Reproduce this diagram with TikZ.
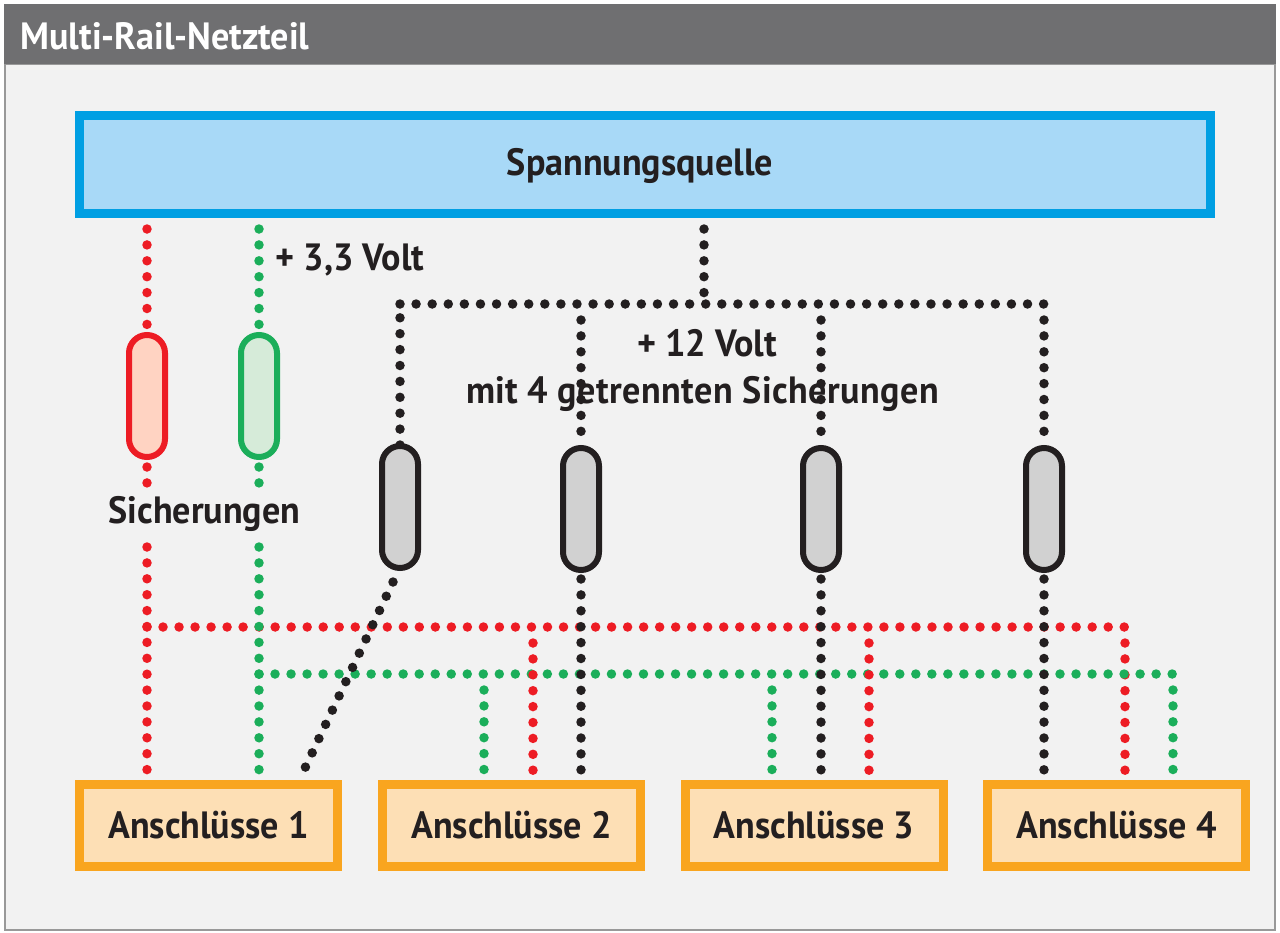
\documentclass[tikz,border=0pt]{standalone}
\usepackage{fontspec}
\setmainfont{PT Sans}
\newfontfamily\labelfont[FakeStretch=0.95]{PT Sans}
\newfontfamily\widefont[FakeStretch=0.95,LetterSpace=1.2]{PT Sans}
\definecolor{panelgray}{HTML}{F2F2F2}
\definecolor{headgray}{HTML}{6F6F71}
\definecolor{inkblack}{HTML}{231F20}
\definecolor{srcblue}{HTML}{009FE3}
\definecolor{srcfill}{HTML}{A8D9F7}
\definecolor{portorange}{HTML}{F9A51F}
\definecolor{portfill}{HTML}{FDDFB5}
\definecolor{railred}{HTML}{ED1C24}
\definecolor{railgreen}{HTML}{1BAE5A}
\definecolor{fusered}{HTML}{FFD3C2}
\definecolor{fusegreen}{HTML}{D6EBD9}
\tikzset{
  lbl/.style={text=inkblack,inner sep=0pt,font=\labelfont\bfseries\fontsize{38}{44}\selectfont},
  portbox/.style={draw=portorange,fill=portfill,line width=9pt,minimum width=258pt,minimum height=82pt,lbl},
  fuse/.style={line width=6pt,minimum width=36pt,minimum height=122pt,rounded corners=18pt,inner sep=0pt},
  dots/.style={line width=9.5pt,line cap=round,dash pattern=on 0pt off 15.9pt},
  busdots/.style={dash pattern=on 0pt off 16.02pt},
  redrail/.style={dots,draw=railred},
  greenrail/.style={dots,draw=railgreen},
  blackrail/.style={dots,draw=inkblack}
}
\begin{document}
\begin{tikzpicture}[x=1pt,y=-1pt]
\useasboundingbox (0,0) rectangle (1280,932);
% panel and heading
\node (panel) at (640,497) [draw=black!40,line width=1.5pt,fill=panelgray,minimum width=1270pt,minimum height=866pt,inner sep=0pt] {};
\node (head) at (640,34) [fill=headgray,minimum width=1272pt,minimum height=60pt,inner sep=0pt] {};
\node (title) at (165,36) [text=white,inner sep=0pt,font=\labelfont\bfseries\fontsize{38}{44}\selectfont] {Multi-Rail-Netzteil};
\node (source) at (645,164.5) [draw=srcblue,fill=srcfill,line width=9pt,minimum width=1131pt,minimum height=98pt] {};
\node (sourcelabel) at (640,166) [lbl] {Spannungsquelle};

% connections
\node (port1) at (208.5,825) [portbox] {Anschlüsse 1};
\node (port2) at (511.5,825) [portbox] {Anschlüsse 2};
\node (port3) at (814,825) [portbox] {Anschlüsse 3};
\node (port4) at (1116.5,825) [portbox] {Anschlüsse 4};

\coordinate (redtop) at (147,229);
\coordinate (redlow) at (147,484);
\coordinate (redmid) at (147,547);
\coordinate (redend) at (147,771);
\coordinate (redbus) at (147,627);
\coordinate (redcorner) at (1125.5,627);
\coordinate (redfour) at (1125,643);
\coordinate (redfourend) at (1125,771);
\coordinate (redtwo) at (533,643);
\coordinate (redtwoend) at (533,771);
\coordinate (redthree) at (869,643);
\coordinate (redthreeend) at (869,771);
\coordinate (greentop) at (259,229);
\coordinate (greenlow) at (259,484);
\coordinate (greenmid) at (259,547);
\coordinate (greenend) at (259,771);
\coordinate (greenbus) at (259,674);
\coordinate (greencorner) at (1173.5,674);
\coordinate (greenfour) at (1173,690);
\coordinate (greenfourend) at (1173,771);
\coordinate (greentwo) at (484,690);
\coordinate (greentwoend) at (484,771);
\coordinate (greenthree) at (772,690);
\coordinate (greenthreeend) at (772,771);
\coordinate (blacktop) at (704,229);
\coordinate (blackstem) at (704,294);
\coordinate (blackleft) at (400,304);
\coordinate (blackright) at (1044.5,304);
\coordinate (blacktwo) at (581,320);
\coordinate (blackthree) at (821,320);
\coordinate (blackfour) at (1044,320);
\coordinate (blackfirst) at (400,445);
\coordinate (blackfirstend) at (400,316);
\coordinate (blackstart) at (393,582);
\coordinate (blackone) at (305,768);
\coordinate (blacktwostart) at (581,579);
\coordinate (blackthreestart) at (821,579);
\coordinate (blackfourstart) at (1044,579);
\coordinate (blacktwoend) at (581,771);
\coordinate (blackthreeend) at (821,771);
\coordinate (blackfourend) at (1044,771);

\draw[redrail] (redtop) -- (147,340);
\draw[redrail] (147,467) -- (redlow);
\draw[redrail] (redmid) -- (redend);
\draw[redrail,busdots] (redbus) -- (redcorner);
\draw[redrail] (redfour) -- (redfourend);
\draw[greenrail] (greentop) -- (259,340);
\draw[greenrail] (259,467) -- (greenlow);
\draw[greenrail] (greenmid) -- (greenend);
\draw[greenrail,busdots] (greenbus) -- (greencorner);
\draw[greenrail] (greenfour) -- (greenfourend);
\draw[greenrail] (greentwo) -- (greentwoend);
\draw[greenrail] (greenthree) -- (greenthreeend);
\draw[redrail] (redtwo) -- (redtwoend);
\draw[redrail] (redthree) -- (redthreeend);
\draw[blackrail] (blacktop) -- (blackstem);
\draw[blackrail,dash pattern=on 0pt off 16.09pt] (blackleft) -- (blackright);
\draw[blackrail] (blackfirst) -- (blackfirstend);
\draw[blackrail] (blacktwo) -- (581,445);
\draw[blackrail] (blackthree) -- (821,445);
\draw[blackrail] (blackfour) -- (1044,445);
\draw[blackrail,dash pattern=on 0pt off 15.75pt] (blackstart) -- (blackone);
\draw[blackrail] (blacktwostart) -- (blacktwoend);
\draw[blackrail] (blackthreestart) -- (blackthreeend);
\draw[blackrail] (blackfourstart) -- (blackfourend);

% fuses
\node (fuse1) at (147,396) [fuse,draw=railred,fill=fusered] {};
\node (fuse2) at (259,396) [fuse,draw=railgreen,fill=fusegreen] {};
\node (fuse3) at (400,507) [fuse,draw=inkblack,fill=black!18] {};
\node (fuse4) at (581,509) [fuse,draw=inkblack,fill=black!18] {};
\node (fuse5) at (821,509) [fuse,draw=inkblack,fill=black!18] {};
\node (fuse6) at (1044,509) [fuse,draw=inkblack,fill=black!18] {};

% labels
\node (fuselabel) at (204.5,514) [lbl] {Sicherungen};
\node (lowvolt) at (350,260) [lbl] {+ 3,3 Volt};
\node (highvolt) at (707,343) [lbl] {+ 12 Volt};
\node (highnote) at (702.5,394) [lbl,font=\widefont\bfseries\fontsize{38}{44}\selectfont] {mit 4 getrennten Sicherungen};
\end{tikzpicture}
\end{document}
